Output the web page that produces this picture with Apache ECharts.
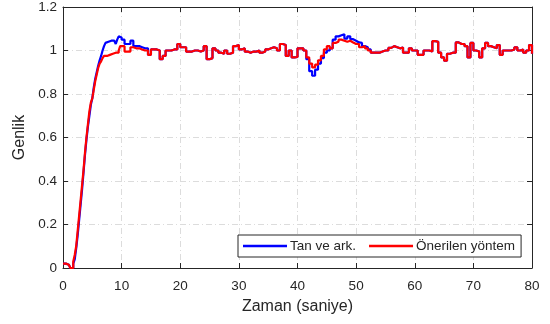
<!DOCTYPE html>
<html>
<head>
<meta charset="utf-8">
<script src="https://cdn.jsdelivr.net/npm/echarts@6/dist/echarts.min.js"></script>
<style>
  html, body { margin: 0; padding: 0; background: #fff; }
  #chart { width: 550px; height: 324px; }
</style>
</head>
<body>
<div id="chart"></div>
<script>
// Step responses: sampled every 0.25 s during the rise (0 .. 9.75 s),
// then every 0.5 s from 10 s to 80 s.
const riseStep = 0.25;
const riseSamples = 40;
const holdStep = 0.5;
const xTicks = [0, 10, 20, 30, 40, 50, 60, 70, 80];
const yTicks = [0, 0.2, 0.4, 0.6, 0.8, 1, 1.2];
const seriesNames = ['Tan ve ark.', 'Önerilen yöntem'];

const tanValues = [
  // 0 .. 9.75 s
  0.02, 0.02, 0.02, 0.015, 0.01, 0.0, 0.0, 0.02, 0.04, 0.09,
  0.15, 0.22, 0.29, 0.36, 0.44, 0.52, 0.59, 0.65, 0.70, 0.75,
  0.78, 0.83, 0.87, 0.90, 0.93, 0.955, 0.975, 1.0, 1.02, 1.035,
  1.04, 1.045, 1.045, 1.045, 1.045, 1.04, 1.03, 1.05, 1.065, 1.06,
  // 10 .. 80 s
  1.05, 1.03, 1.03, 1.045, 1.02, 1.02, 1.015, 1.01, 1.01, 0.98,
  1.005, 1.005, 1.0, 0.96, 0.975, 1.0, 1.0, 1.005, 1.005, 1.03,
  1.015, 1.015, 0.995, 0.995, 1.0, 1.0, 0.995, 1.0, 1.02, 0.96,
  0.965, 1.01, 1.0, 0.99, 0.985, 1.0, 0.985, 0.99, 1.02, 1.025,
  1.005, 1.01, 0.995, 0.99, 0.995, 0.995, 1.0, 0.99, 0.995, 1.005,
  1.01, 1.015, 1.01, 1.0, 1.03, 1.025, 0.975, 1.0, 0.968, 0.97,
  1.01, 1.01, 1.0, 0.96, 0.905, 0.884, 0.912, 0.94, 0.965, 0.99,
  1.0, 1.01, 1.05, 1.065, 1.07, 1.075, 1.055, 1.065, 1.052, 1.045,
  1.037, 1.035, 1.02, 1.015, 1.005, 0.99, 0.99, 0.99, 0.995, 1.0,
  1.0, 1.012, 1.02, 1.015, 1.01, 1.014, 0.99, 0.99, 1.01, 1.0,
  1.0, 0.98, 0.98, 1.0, 1.0, 0.995, 1.043, 1.04, 0.99, 0.968,
  0.953, 0.985, 0.99, 0.99, 1.037, 1.03, 1.03, 1.02, 0.968, 1.035,
  1.0, 0.995, 0.968, 1.01, 1.035, 1.02, 1.015, 1.01, 1.025, 0.98,
  1.0, 1.0, 1.0, 1.005, 1.015, 1.0, 1.005, 0.99, 1.0, 1.025,
  0.985
];

const proposedValues = [
  // 0 .. 9.75 s
  0.02, 0.02, 0.02, 0.015, 0.01, 0.0, 0.0, 0.03, 0.06, 0.10,
  0.17, 0.24, 0.31, 0.38, 0.45, 0.53, 0.60, 0.66, 0.72, 0.76,
  0.78, 0.82, 0.86, 0.89, 0.92, 0.94, 0.95, 0.965, 0.975, 0.975,
  0.98, 0.98, 0.985, 0.985, 0.99, 0.99, 0.99, 0.99, 1.0, 1.02,
  // 10 .. 80 s
  1.02, 0.995, 0.995, 1.015, 1.01, 1.01, 1.005, 1.0, 1.0, 0.98,
  1.005, 1.005, 1.0, 0.96, 0.975, 1.0, 1.0, 1.005, 1.005, 1.03,
  1.015, 1.015, 0.995, 0.995, 1.0, 1.0, 0.995, 1.0, 1.02, 0.96,
  0.965, 1.01, 1.0, 0.99, 0.985, 1.0, 0.985, 0.99, 1.02, 1.025,
  1.005, 1.01, 0.995, 0.99, 0.995, 0.995, 1.0, 0.99, 0.995, 1.005,
  1.01, 1.015, 1.01, 1.0, 1.03, 1.025, 0.975, 1.0, 0.968, 0.97,
  1.01, 1.01, 1.0, 0.968, 0.94, 0.922, 0.935, 0.955, 0.975, 1.005,
  1.02, 1.01, 1.035, 1.04, 1.05, 1.045, 1.04, 1.045, 1.037, 1.03,
  1.03, 1.015, 1.02, 1.01, 1.0, 0.99, 0.99, 0.99, 0.995, 1.0,
  1.0, 1.012, 1.02, 1.015, 1.01, 1.014, 0.99, 0.99, 1.01, 1.0,
  1.0, 0.98, 0.98, 1.0, 1.0, 0.995, 1.043, 1.04, 0.99, 0.968,
  0.953, 0.985, 0.99, 0.99, 1.037, 1.03, 1.03, 1.02, 0.968, 1.035,
  1.0, 0.995, 0.968, 1.01, 1.035, 1.02, 1.015, 1.01, 1.025, 0.98,
  1.0, 1.0, 1.0, 1.005, 1.015, 1.0, 1.005, 0.99, 1.0, 1.025,
  0.985
];

function sampleTime(i) {
  return i < riseSamples ? i * riseStep : riseSamples * riseStep + (i - riseSamples) * holdStep;
}

function toPairs(values) {
  return values.map((v, i) => [sampleTime(i), v]);
}

const FONT = '"Liberation Sans", Arial, Helvetica, sans-serif';
const INK = '#262626';
const gridLine = { show: true, lineStyle: { color: '#dcdcdc', width: 1, type: [6, 3, 1, 3] } };

const chart = echarts.init(document.getElementById('chart'), null, { renderer: 'canvas' });

chart.setOption({
  animation: false,
  backgroundColor: '#ffffff',
  textStyle: { fontFamily: FONT, color: INK },
  grid: { left: 63, right: 18, top: 6, bottom: 56, containLabel: false },
  xAxis: [
    {
      type: 'value', min: 0, max: 80, interval: 10, position: 'bottom',
      name: 'Zaman (saniye)', nameLocation: 'middle', nameGap: 31,
      nameTextStyle: { fontSize: 16, color: INK, fontFamily: FONT },
      axisLine: { show: true, lineStyle: { color: INK, width: 1 } },
      axisTick: { show: true, inside: true, length: 5, lineStyle: { color: INK } },
      axisLabel: { fontSize: 13.5, color: INK, fontFamily: FONT, margin: 11,
        formatter: v => xTicks.includes(v) ? String(v) : '' },
      splitLine: gridLine
    },
    {
      type: 'value', min: 0, max: 80, interval: 10, position: 'top',
      axisLine: { show: true, onZero: false, lineStyle: { color: INK, width: 1 } },
      axisTick: { show: true, inside: true, length: 5, lineStyle: { color: INK } },
      axisLabel: { show: false }, splitLine: { show: false }
    }
  ],
  yAxis: [
    {
      type: 'value', min: 0, max: 1.2, interval: 0.2, position: 'left',
      name: 'Genlik', nameLocation: 'middle', nameGap: 33, nameRotate: 90,
      nameTextStyle: { fontSize: 16, color: INK, fontFamily: FONT },
      axisLine: { show: true, lineStyle: { color: INK, width: 1 } },
      axisTick: { show: true, inside: true, length: 5, lineStyle: { color: INK } },
      axisLabel: { fontSize: 13.5, color: INK, fontFamily: FONT, margin: 6,
        formatter: v => {
          const t = yTicks.find(k => Math.abs(k - v) < 1e-6);
          return t === undefined ? '' : String(Math.round(t * 10) / 10);
        } },
      splitLine: gridLine
    },
    {
      type: 'value', min: 0, max: 1.2, interval: 0.2, position: 'right',
      axisLine: { show: true, onZero: false, lineStyle: { color: INK, width: 1 } },
      axisTick: { show: true, inside: true, length: 5, lineStyle: { color: INK } },
      axisLabel: { show: false }, splitLine: { show: false }
    }
  ],
  legend: {
    left: 238, top: 235,
    orient: 'horizontal',
    padding: [4, 6, 4, 5],
    itemGap: 13,
    icon: 'rect',
    itemWidth: 44, itemHeight: 2.5,
    borderColor: INK, borderWidth: 1,
    backgroundColor: '#ffffff',
    textStyle: { fontSize: 13.5, color: INK, fontFamily: FONT, padding: [0, 0, 0, -2] },
    data: seriesNames
  },
  series: [
    {
      name: seriesNames[0], type: 'line', step: 'end',
      data: toPairs(tanValues),
      showSymbol: false, symbol: 'none',
      lineStyle: { color: '#0000ff', width: 2.2 },
      itemStyle: { color: '#0000ff' },
      z: 2
    },
    {
      name: seriesNames[1], type: 'line', step: 'end',
      data: toPairs(proposedValues),
      showSymbol: false, symbol: 'none',
      lineStyle: { color: '#ff0000', width: 2.2 },
      itemStyle: { color: '#ff0000' },
      z: 3
    }
  ]
});
</script>
</body>
</html>
